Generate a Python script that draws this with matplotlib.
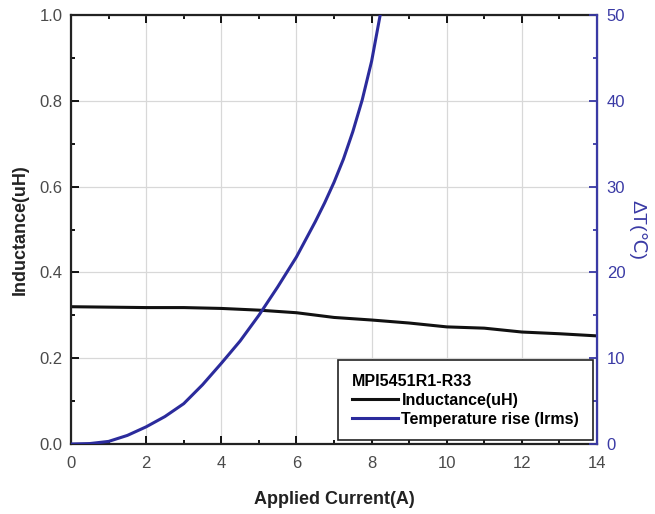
import matplotlib.pyplot as plt
from matplotlib.ticker import MultipleLocator

plt.rcParams['font.family'] = ['Liberation Sans', 'DejaVu Sans']

# inductance vs current
current_l = [0, 1, 2, 3, 4, 5, 6, 7, 8, 9, 10, 11, 12, 13, 14]
inductance = [0.320, 0.319, 0.318, 0.318, 0.316, 0.312, 0.306, 0.295, 0.289, 0.282, 0.273, 0.270, 0.261, 0.257, 0.252]

# temperature rise vs current
current_t = [0, 0.5, 1, 1.5, 2, 2.5, 3, 3.5, 4, 4.5, 5, 5.5, 6, 6.5, 6.75, 7, 7.25, 7.5, 7.75, 8, 8.25]
temp_rise = [0, 0.05, 0.3, 1.0, 2.0, 3.2, 4.7, 6.9, 9.4, 12.0, 15.0, 18.3, 21.8, 25.9, 28.1, 30.5, 33.2, 36.4, 40.1, 44.6, 50.5]

blue = '#2b2b9c'
axis_blue = '#3a3aa5'
tick_grey = '#4a4a4a'

fig = plt.figure(figsize=(6.55, 5.14), dpi=100)
ax = fig.add_axes([0.1084, 0.1362, 0.8031, 0.8346])
ax2 = ax.twinx()

l1, = ax.plot(current_l, inductance, color='#111111', lw=2.2, label='Inductance(uH)')
l2, = ax2.plot(current_t, temp_rise, color=blue, lw=2.2, label='Temperature rise (Irms)')

ax.set_xlim(0, 14)
ax.set_ylim(0, 1.0)
ax2.set_ylim(0, 50)

ax.xaxis.set_major_locator(MultipleLocator(2))
ax.xaxis.set_minor_locator(MultipleLocator(1))
ax.yaxis.set_major_locator(MultipleLocator(0.2))
ax.yaxis.set_minor_locator(MultipleLocator(0.1))
ax2.yaxis.set_major_locator(MultipleLocator(10))
ax2.yaxis.set_minor_locator(MultipleLocator(5))
ax.set_yticks([0, 0.2, 0.4, 0.6, 0.8, 1.0], ['0.0', '0.2', '0.4', '0.6', '0.8', '1.0'])

ax.grid(True, which='major', color='#d8d8d8', lw=0.9)
ax.set_axisbelow(True)

ax.tick_params(which='both', direction='in', top=True, labelsize=12, labelcolor=tick_grey, width=1.3)
ax.tick_params(which='major', length=6)
ax.tick_params(which='minor', length=3)
ax.tick_params(axis='x', pad=9)
ax.tick_params(axis='y', right=False, which='both', pad=6)
ax2.tick_params(which='both', direction='in', colors=axis_blue, labelsize=12, width=1.3, pad=7)
ax2.tick_params(which='major', length=6)
ax2.tick_params(which='minor', length=3)

for side in ['left', 'top', 'bottom']:
    ax.spines[side].set_linewidth(1.6)
    ax.spines[side].set_color('#222222')
ax2.spines['right'].set_color(axis_blue)
ax2.spines['right'].set_linewidth(1.6)
for side in ['left', 'top', 'bottom']:
    ax2.spines[side].set_visible(False)

ax.set_xlabel('Applied Current(A)', fontsize=13, fontweight='bold', color='#222222', labelpad=14)
ax.set_ylabel('Inductance(uH)', fontsize=13, fontweight='bold', color='#222222', labelpad=8)
ax2.set_ylabel('ΔT(℃)', fontsize=14, color=axis_blue, rotation=270, labelpad=15)

leg = ax2.legend(handles=[l1, l2], title='MPI5451R1-R33', loc='lower right',
                 bbox_to_anchor=(0.992, 0.009), borderaxespad=0, fancybox=False,
                 edgecolor='#222222', framealpha=1, alignment='left',
                 handlelength=2.9, handletextpad=0.2, borderpad=0.85, labelspacing=0.25,
                 prop={'weight': 'bold', 'size': 11.5},
                 title_fontproperties={'weight': 'bold', 'size': 11.5})
leg.get_frame().set_linewidth(1.2)

fig.savefig('out.png', dpi=100)
